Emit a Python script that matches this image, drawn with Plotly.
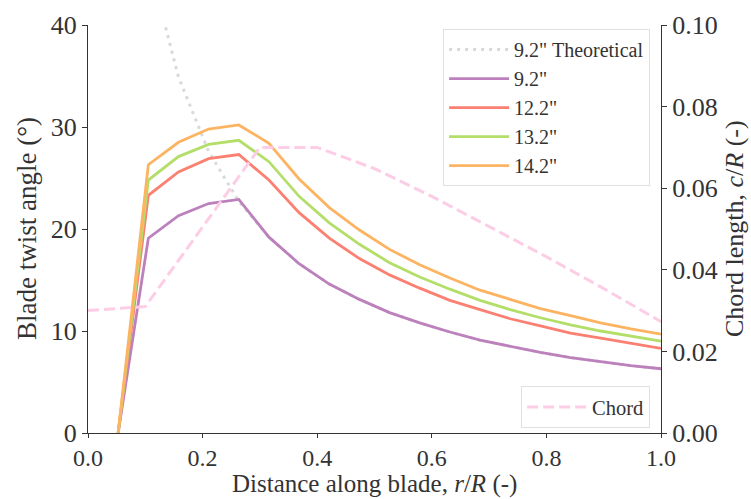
import plotly.graph_objects as go

# ---- data ----
r_R = [0.0526, 0.1053, 0.1579, 0.2105, 0.2632, 0.3158, 0.3684, 0.4211, 0.4737, 0.5263,
       0.5789, 0.6316, 0.6842, 0.7368, 0.7895, 0.8421, 0.8947, 0.9474, 1.0]
twist_theory_92 = [64.4, 46.3, 34.9, 27.6, 22.7, 19.2, 16.6, 14.6, 13.1, 11.8,
                   10.8, 9.9, 9.1, 8.5, 7.9, 7.4, 7.0, 6.6, 6.3]
twist_92 = [0, 19.1, 21.3, 22.5, 22.9, 19.2, 16.6, 14.6, 13.1, 11.8,
            10.8, 9.9, 9.1, 8.5, 7.9, 7.4, 7.0, 6.6, 6.3]
twist_122 = [0, 23.3, 25.6, 26.9, 27.3, 24.8, 21.6, 19.1, 17.1, 15.5,
             14.2, 13.0, 12.1, 11.2, 10.5, 9.8, 9.3, 8.8, 8.3]
twist_132 = [0, 24.8, 27.1, 28.3, 28.7, 26.6, 23.2, 20.6, 18.5, 16.7,
             15.3, 14.1, 13.0, 12.1, 11.3, 10.6, 10.0, 9.5, 9.0]
twist_142 = [0, 26.3, 28.5, 29.8, 30.2, 28.4, 24.9, 22.1, 19.9, 18.0,
             16.5, 15.2, 14.0, 13.1, 12.2, 11.5, 10.8, 10.2, 9.7]

chord_r = [0.0, 0.1, 0.2, 0.3, 0.4, 0.5, 0.6, 0.7, 0.8, 0.9, 1.0]
chord_c = [0.030, 0.031, 0.0505, 0.070, 0.070, 0.0648, 0.058, 0.0507, 0.0432, 0.0354, 0.0273]

series_names = ['9.2"', '12.2"', '13.2"', '14.2"']
series_vals = [twist_92, twist_122, twist_132, twist_142]
series_cols = ["#bc80bd", "#fb8072", "#b3de69", "#fdb462"]

x_title = "Distance along blade, <i>r</i>/<i>R</i> (-)"
y_title = "Blade twist angle (°)"
y2_title = "Chord length, <i>c</i>/<i>R</i> (-)"

FONT = "Liberation Serif"
TXT = "#333333"

fig = go.Figure()

fig.add_trace(go.Scatter(
    x=r_R, y=twist_theory_92, mode="lines", name='9.2" Theoretical',
    line=dict(color="#d9d9d9", width=3, dash="3px,5px"),
    legend="legend", legendgroup="g0"))

for i, (nm, vals, col) in enumerate(zip(series_names, series_vals, series_cols)):
    fig.add_trace(go.Scatter(
        x=r_R, y=vals, mode="lines", name=nm,
        line=dict(color=col, width=2.8),
        legend="legend", legendgroup=f"g{i+1}"))

fig.add_trace(go.Scatter(
    x=chord_r, y=chord_c, mode="lines", name="Chord", yaxis="y2",
    line=dict(color="#fccde5", width=3, dash="11px,5px"),
    legend="legend2"))

axis_common = dict(
    showgrid=False, zeroline=False, showline=True, linecolor=TXT, linewidth=1.3,
    ticks="outside", tickwidth=1.3, tickcolor=TXT, automargin=False,
)

fig.update_layout(
    width=751, height=499,
    margin=dict(l=88, r=90, t=25, b=66),
    paper_bgcolor="white", plot_bgcolor="white",
    font=dict(family=FONT, color=TXT),
    xaxis=dict(range=[0, 1], dtick=0.2, tickformat=".1f", ticklen=3.5,
               tickfont=dict(family=FONT, size=24, color=TXT), **axis_common),
    yaxis=dict(range=[0, 40], dtick=10, ticklen=5,
               tickfont=dict(family=FONT, size=26, color=TXT), **axis_common),
    yaxis2=dict(range=[0, 0.1], dtick=0.02, tickformat=".2f", overlaying="y", side="right",
                ticklen=5, tickfont=dict(family=FONT, size=26, color=TXT), **axis_common),
    legend=dict(x=0.981, y=0.99, xanchor="right", yanchor="top",
                bgcolor="rgba(255,255,255,0.8)", bordercolor="#e0e0e0", borderwidth=1,
                font=dict(family=FONT, size=20, color=TXT),
                traceorder="grouped", tracegroupgap=0, itemwidth=60),
    legend2=dict(x=0.981, y=0.012, xanchor="right", yanchor="bottom",
                 bgcolor="rgba(255,255,255,0.8)", bordercolor="#e0e0e0", borderwidth=1,
                 font=dict(family=FONT, size=20.5, color=TXT), itemwidth=60),
    showlegend=True,
    annotations=[
        dict(text=x_title, xref="paper", yref="paper", x=0.5, y=0, yshift=-51,
             xanchor="center", yanchor="middle", showarrow=False,
             font=dict(family=FONT, size=25, color=TXT)),
        dict(text=y_title, xref="paper", yref="paper", x=0, y=0.5, xshift=-61,
             xanchor="center", yanchor="middle", textangle=-90, showarrow=False,
             font=dict(family=FONT, size=27, color=TXT)),
        dict(text=y2_title, xref="paper", yref="paper", x=1, y=0.5, xshift=73,
             xanchor="center", yanchor="middle", textangle=-90, showarrow=False,
             font=dict(family=FONT, size=26, color=TXT)),
    ],
)

fig.write_html("out.html")
